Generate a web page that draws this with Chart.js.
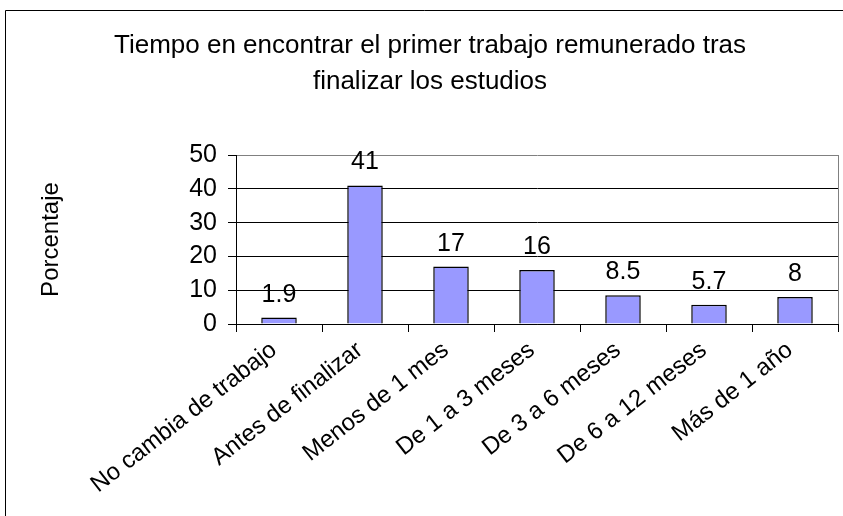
<!DOCTYPE html>
<html>
<head>
<meta charset="utf-8">
<script src="https://cdn.jsdelivr.net/npm/chart.js@4.4.0/dist/chart.umd.min.js"></script>
<style>
  body { margin: 0; background: #fff; }
  #wrap { width: 843px; height: 516px; position: relative; }
</style>
</head>
<body>
<div id="wrap"><canvas id="grafico"></canvas></div>
<script>
// datos
var categorias = ['No cambia de trabajo', 'Antes de finalizar', 'Menos de 1 mes', 'De 1 a 3 meses',
                  'De 3 a 6 meses', 'De 6 a 12 meses', 'Más de 1 año'];
var porcentajes = [1.9, 41, 17, 16, 8.5, 5.7, 8];
var titulo = ['Tiempo en encontrar el primer trabajo remunerado tras', 'finalizar los estudios'];
var tituloEje = 'Porcentaje';

Chart.defaults.font.family = '"Liberation Sans", Arial, sans-serif';
Chart.defaults.color = '#000';

// marco exterior (izquierda y arriba, el resto queda fuera)
var marco = {
  id: 'marco',
  beforeDraw: function(chart) {
    var c = chart.ctx;
    c.save();
    c.fillStyle = '#fff';
    c.fillRect(0, 0, chart.width, chart.height);
    c.strokeStyle = '#000';
    c.lineWidth = 1;
    c.beginPath();
    c.moveTo(5.5, chart.height);
    c.lineTo(5.5, 10.5);
    c.lineTo(chart.width, 10.5);
    c.stroke();
    c.restore();
  },
  afterDraw: function(chart) {
    var a = chart.chartArea, c = chart.ctx;
    c.save();
    c.strokeStyle = '#808080';
    c.lineWidth = 1;
    c.beginPath();
    c.moveTo(Math.round(a.right) + 0.5, a.top);
    c.lineTo(Math.round(a.right) + 0.5, a.bottom);
    c.stroke();
    c.restore();
  }
};

// valores encima de cada barra
var etiquetas = {
  id: 'etiquetas',
  afterDatasetsDraw: function(chart) {
    var c = chart.ctx;
    var meta = chart.getDatasetMeta(0);
    c.save();
    c.font = '25px "Liberation Sans", Arial, sans-serif';
    c.fillStyle = '#000';
    c.textAlign = 'center';
    c.textBaseline = 'alphabetic';
    meta.data.forEach(function(bar, i) {
      c.fillText(String(porcentajes[i]), bar.x, bar.y - 16);
    });
    c.restore();
  }
};

var chart = new Chart(document.getElementById('grafico'), {
  type: 'bar',
  data: {
    labels: categorias,
    datasets: [{
      data: porcentajes,
      backgroundColor: '#9999FF',
      borderColor: '#000',
      borderWidth: 1.5,
      barPercentage: 0.413,
      categoryPercentage: 1
    }]
  },
  options: {
    responsive: true,
    maintainAspectRatio: false,
    animation: false,
    layout: { padding: { left: 22, right: 5, top: 0, bottom: 0 } },
    plugins: {
      legend: { display: false },
      tooltip: { enabled: false },
      title: {
        display: true,
        text: titulo,
        font: { size: 26, weight: 'normal', lineHeight: 1.385 },
        color: '#000',
        padding: { top: 28, bottom: 55 }
      }
    },
    scales: {
      x: {
        grid: { offset: true, drawOnChartArea: false, tickLength: 8, tickColor: '#000' },
        border: { color: '#000' },
        ticks: { autoSkip: false, minRotation: 38, maxRotation: 38, padding: 4, labelOffset: -5,
                 font: { size: 24 }, color: '#000' },
        afterFit: function(s) { s.height = 192; }
      },
      y: {
        min: 0, max: 50,
        ticks: { stepSize: 10, padding: 11, font: { size: 25 }, color: '#000' },
        grid: {
          color: function(ctx) { return ctx.tick && ctx.tick.value === 50 ? '#808080' : '#000'; },
          tickColor: '#000',
          tickLength: 8
        },
        border: { color: '#000' },
        title: { display: true, text: tituloEje, font: { size: 24 }, color: '#000',
                 padding: { top: 15, bottom: 0 } },
        afterFit: function(s) { s.width = 214; }
      }
    }
  },
  plugins: [marco, etiquetas]
});
</script>
</body>
</html>
